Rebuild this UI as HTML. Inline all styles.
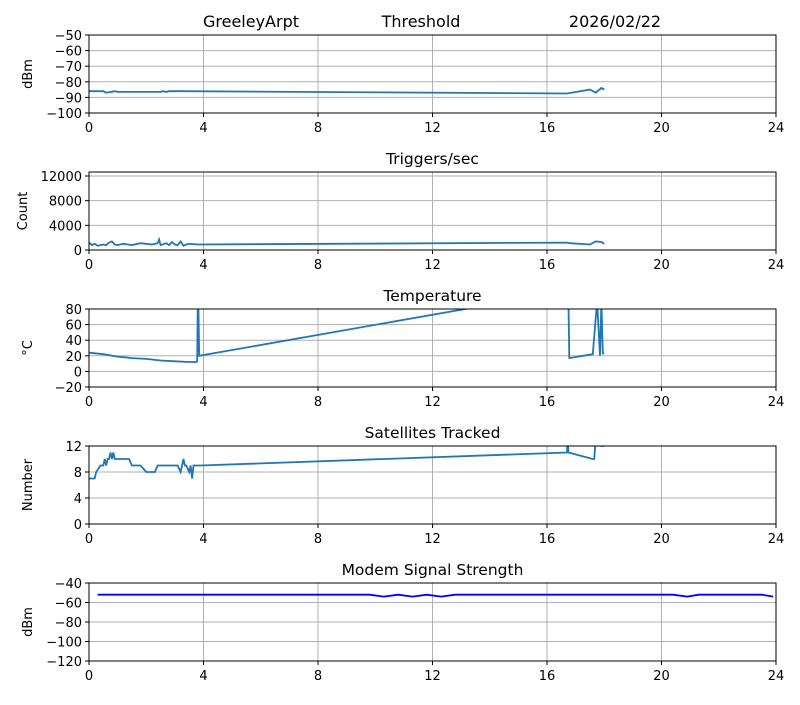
<!DOCTYPE html>
<html><head><meta charset="utf-8"><style>
body{margin:0;background:#fff;font-family:"Liberation Sans","DejaVu Sans",sans-serif}
svg text{font-family:"DejaVu Sans","Liberation Sans",sans-serif}
</style></head><body>
<svg id="c" width="800" height="700" xmlns="http://www.w3.org/2000/svg"></svg>
<script>
const xTicks=[0,4,8,12,16,20,24];
const rssiT=[0,0.5,0.6,0.9,1.0,2.5,2.6,2.7,2.8,3.2,3.3,16.7,17.5,17.7,17.9,18.0];
const rssiV=[-86,-86,-87,-86,-86.5,-86.5,-86,-86.5,-86,-86,-86,-87.5,-85,-87,-84,-85];
const trigT=[0,0.1,0.2,0.3,0.5,0.6,0.7,0.8,0.9,1.0,1.2,1.5,1.8,2.0,2.2,2.4,2.45,2.5,2.7,2.8,2.9,3.0,3.1,3.2,3.3,3.4,3.5,3.8,16.7,16.8,17.5,17.7,17.9,18.0];
const trigV=[1200,800,1000,700,900,800,1200,1400,900,800,1000,800,1100,1000,900,1100,1700,800,1100,800,1300,900,800,1400,700,900,1000,900,1200,1100,900,1400,1300,1000];
const tempT=[0,0.5,1,1.5,2,2.5,3,3.5,3.75,3.78,3.8,3.82,3.85,16.7,16.72,16.75,16.78,17.6,17.75,17.85,17.9,17.95,18.0];
const tempV=[24,22,19,17,16,14,13,12,12,13,90,90,20,103,85,85,17,22,90,20,90,23,23];
const satT=[0,0.2,0.25,0.4,0.5,0.55,0.6,0.65,0.7,0.75,0.8,0.85,0.9,1.0,1.4,1.5,1.6,1.8,2.0,2.3,2.4,2.5,2.6,2.7,2.8,3.1,3.2,3.3,3.35,3.4,3.5,3.55,3.6,3.65,3.8,3.9,16.7,16.72,16.75,17.6,17.65,17.7,17.9,18.0];
const satV=[7,7,8,9,9,10,9,10,10,11,10,11,10,10,10,9,9,9,8,8,9,9,9,9,9,9,8,10,9,9,8,9,7,9,9,9,11,13,11,10,10,13,12,12];
const modT=[0.3,9.8,10.3,10.8,11.3,11.8,12.3,12.8,20.4,20.9,21.3,23.5,23.9];
const modV=[-52,-52,-54,-52,-54,-52,-54,-52,-52,-54,-52,-52,-54];
const panels=[
 {name:'rssi',top:35,bot:113,ymin:-100,ymax:-50,ticks:[-100,-90,-80,-70,-60,-50],yl:'dBm',title:null,T:rssiT,V:rssiV,col:'#1f77b4'},
 {name:'triggers',top:172,bot:250,ymin:0,ymax:12650,ticks:[0,4000,8000,12000],yl:'Count',title:'Triggers/sec',T:trigT,V:trigV,col:'#1f77b4'},
 {name:'temperature',top:309,bot:387,ymin:-20,ymax:80,ticks:[-20,0,20,40,60,80],yl:'°C',title:'Temperature',T:tempT,V:tempV,col:'#1f77b4'},
 {name:'satellites',top:446,bot:524,ymin:0,ymax:12,ticks:[0,4,8,12],yl:'Number',title:'Satellites Tracked',T:satT,V:satV,col:'#1f77b4'},
 {name:'modem',top:583,bot:661,ymin:-120,ymax:-40,ticks:[-120,-100,-80,-60,-40],yl:'dBm',title:'Modem Signal Strength',T:modT,V:modV,col:'#0000ff'}
];
const L=89,R=776,svg=document.getElementById('c'),NS='http://www.w3.org/2000/svg';
function mk(tag,a,p){const e=document.createElementNS(NS,tag);for(const k in a)e.setAttribute(k,a[k]);(p||svg).appendChild(e);return e;}
const xs=t=>L+t*(R-L)/24;
function txt(s,x,y,anchor,size,p){const e=mk('text',{x:x,y:y,'text-anchor':anchor,'font-size':size,fill:'#000'},p);e.textContent=s;return e;}
const hdr=[['GreeleyArpt',251],['Threshold',421],['2026/02/22',615]];
hdr.forEach(h=>{const e=txt(h[0],h[1],27,'middle',16);

});
panels.forEach((p,i)=>{
 const g=mk('g',{});
 
 
 const ys=v=>p.bot-(v-p.ymin)*(p.bot-p.top)/(p.ymax-p.ymin);
 mk('clipPath',{id:'cl'+i},g).appendChild(mk('rect',{x:L,y:p.top,width:R-L,height:p.bot-p.top},g));
 xTicks.forEach(t=>{mk('line',{x1:xs(t),x2:xs(t),y1:p.top,y2:p.bot,stroke:'#b0b0b0','stroke-width':1},g);
  mk('line',{x1:xs(t),x2:xs(t),y1:p.bot,y2:p.bot+4,stroke:'#000'},g);
  const e=txt(String(t),xs(t),p.bot+19,'middle',13,g);
  
  });
 p.ticks.forEach(v=>{mk('line',{x1:L,x2:R,y1:ys(v),y2:ys(v),stroke:'#b0b0b0','stroke-width':1},g);
  mk('line',{x1:L-4,x2:L,y1:ys(v),y2:ys(v),stroke:'#000'},g);
  const e=txt(String(v).replace('-','−'),L-7,ys(v)+5,'end',13,g);
  
  });
 const d=p.T.map((t,k)=>(k?'L':'M')+xs(t).toFixed(1)+' '+ys(p.V[k]).toFixed(1)).join(' ');
 const ln=mk('path',{d:d,fill:'none',stroke:p.col,'stroke-width':1.8,'clip-path':'url(#cl'+i+')'},g);
 
 
 mk('rect',{x:L,y:p.top,width:R-L,height:p.bot-p.top,fill:'none',stroke:'#000','stroke-width':1},g);
 const cy=(p.top+p.bot)/2,yx=i==1?27:32;
 const yl=mk('text',{x:yx,y:cy,'text-anchor':'middle','font-size':13,transform:'rotate(-90 '+yx+' '+cy+')'},g);
 yl.textContent=p.yl;
 
 
 if(p.title){const t=txt(p.title,(L+R)/2,p.top-8,'middle',15.5,g);
  
  }
});
</script>
</body></html>
